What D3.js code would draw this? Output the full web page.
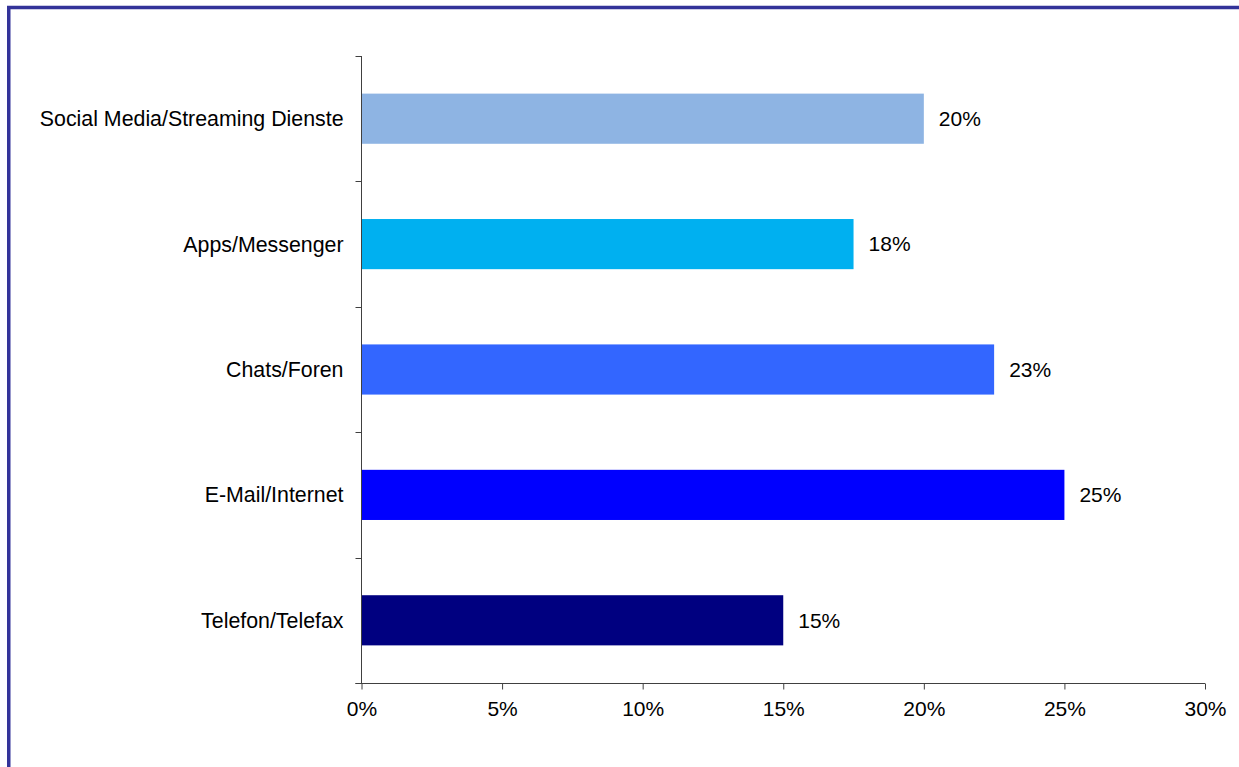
<!DOCTYPE html>
<html>
<head>
<meta charset="utf-8">
<script src="https://cdn.jsdelivr.net/npm/d3@7"></script>
<style>
  html, body { margin: 0; padding: 0; background: #ffffff; }
  svg { display: block; }
  text { font-family: "Liberation Sans", Arial, sans-serif; fill: #000; }
</style>
</head>
<body>
<script>
// Channels, top to bottom
const categories = [
  "Social Media/Streaming Dienste",
  "Apps/Messenger",
  "Chats/Foren",
  "E-Mail/Internet",
  "Telefon/Telefax"
];
// Share per channel, in percent
const values = [20, 17.5, 22.5, 25, 15];
// Bar fill per channel
const colors = ["#8eb4e3", "#00b0f0", "#3366ff", "#0000ff", "#000080"];
// Value-axis ticks, in percent
const xTicks = [0, 5, 10, 15, 20, 25, 30];

const W = 1239, H = 767;
const FS = 21;
const svg = d3.select("body").append("svg")
  .attr("width", W).attr("height", H);

// Outer frame
svg.append("rect")
  .attr("x", 8.75).attr("y", 7.5)
  .attr("width", W + 10).attr("height", H + 10)
  .attr("fill", "#fff")
  .attr("stroke", "#333399").attr("stroke-width", 3.5);

const plot = { left: 361.5, right: 1205, top: 56, bottom: 683 };

const x = d3.scaleLinear().domain([0, 30]).range([plot.left, plot.right]);
const y = d3.scaleBand().domain(categories)
  .range([plot.top, plot.bottom]).paddingInner(0.6).paddingOuter(0.3);

const g = svg.append("g");

// Bars
g.selectAll("rect.bar").data(categories).join("rect")
  .attr("class", "bar")
  .attr("x", x(0))
  .attr("y", d => y(d))
  .attr("width", (d, i) => x(values[i]) - x(0))
  .attr("height", y.bandwidth())
  .attr("fill", (d, i) => colors[i]);

// Value labels
g.selectAll("text.val").data(categories).join("text")
  .attr("class", "val")
  .attr("x", (d, i) => x(values[i]) + 15)
  .attr("y", d => y(d) + y.bandwidth() / 2)
  .attr("dy", "0.35em")
  .attr("font-size", FS)
  .text((d, i) => Math.round(values[i]) + "%");

// Category axis: ticks sit between bands
const bandEdges = d3.range(categories.length + 1)
  .map(i => plot.top + i * (plot.bottom - plot.top) / categories.length);
const yAxis = g.append("g");
yAxis.append("line")
  .attr("x1", plot.left).attr("x2", plot.left)
  .attr("y1", plot.top).attr("y2", plot.bottom)
  .attr("stroke", "#404040").attr("stroke-width", 1);
yAxis.selectAll("line.tick").data(bandEdges).join("line")
  .attr("class", "tick")
  .attr("x1", plot.left - 6).attr("x2", plot.left)
  .attr("y1", d => Math.round(d) + 0.5).attr("y2", d => Math.round(d) + 0.5)
  .attr("stroke", "#404040");
yAxis.selectAll("text").data(categories).join("text")
  .attr("x", plot.left - 18)
  .attr("y", d => y(d) + y.bandwidth() / 2)
  .attr("dy", "0.35em")
  .attr("text-anchor", "end")
  .attr("font-size", 21.35)
  .text(d => d);

// Value axis
const xAxis = g.append("g")
  .attr("transform", `translate(0,${plot.bottom + 0.5})`)
  .call(d3.axisBottom(x).tickValues(xTicks)
    .tickFormat(d => d + "%").tickSizeInner(6).tickSizeOuter(0).tickPadding(12));
xAxis.select(".domain").attr("stroke", "#404040")
  .attr("d", `M${plot.left - 6},0H${plot.right}`);
xAxis.selectAll(".tick line").attr("stroke", "#404040");
xAxis.selectAll(".tick text")
  .attr("font-size", FS)
  .attr("font-family", "'Liberation Sans', Arial, sans-serif")
  .attr("fill", "#000");
</script>
</body>
</html>
